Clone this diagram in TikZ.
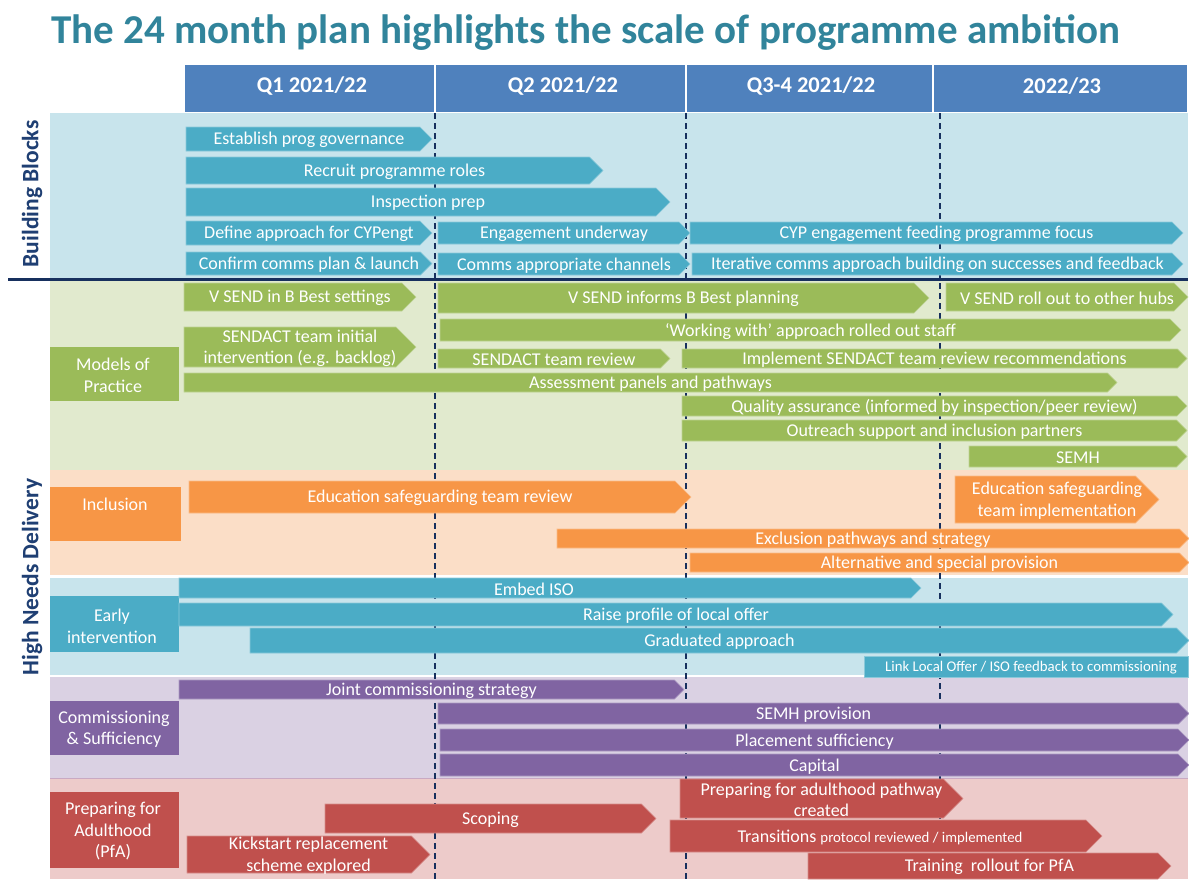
\documentclass[tikz,border=0pt]{standalone}
\usepackage{fontspec}
\setmainfont{Carlito}
\definecolor{titleteal}{HTML}{31849B}
\definecolor{hdrblue}{HTML}{4F81BD}
\definecolor{navy}{HTML}{17305E}
\definecolor{vtext}{HTML}{1F3F73}
\definecolor{tealbar}{HTML}{4BACC6}
\definecolor{tealbg}{HTML}{C8E4EC}
\definecolor{greenbar}{HTML}{9BBB59}
\definecolor{greenbg}{HTML}{E1EACE}
\definecolor{orangebar}{HTML}{F79646}
\definecolor{orangebg}{HTML}{FBDEC7}
\definecolor{purplebar}{HTML}{8064A2}
\definecolor{purplebg}{HTML}{DAD1E3}
\definecolor{redbar}{HTML}{C0504D}
\definecolor{redbg}{HTML}{EDCBCA}
\definecolor{csline}{HTML}{C9A9C2}
\newcommand\btfont{\fontsize{18}{21.5}\selectfont}
\newcommand\smfont{\fontsize{14.8}{16}\selectfont}
\tikzset{
  bartext/.style={text=white, font=\btfont, inner sep=0pt, align=center, yshift=-1.2pt},
  hdrtext/.style={text=white, font=\fontsize{22.5}{26}\selectfont\bfseries, inner sep=0pt},
  vlabel/.style={text=vtext, font=\fontsize{23.5}{26}\selectfont\bfseries, rotate=90, inner sep=0pt},
  divider/.style={navy, dashed, dash pattern=on 6pt off 4pt, line width=1.3pt},
}
% #1 text xshift, #2 name, #3 x1, #4 tip x, #5 y1, #6 y2, #7 colour, #8 text
\newcommand\chev[8][0]{%
  \filldraw[fill=#7, draw=#7!65!white, line width=0.6pt]
    (#3,#5) -- ({#4-(#6-#5)/2},#5) -- (#4,{(#5+#6)/2}) -- ({#4-(#6-#5)/2},#6) -- (#3,#6) -- cycle;
  \node[bartext] (#2) at ({(#3+#4)/2+#1},{(#5+#6)/2}) {#8};}
\begin{document}
\begin{tikzpicture}[x=1pt,y=-1pt]
\useasboundingbox (0,0) rectangle (1189,879);
\fill[white] (0,0) rectangle (1189,879);
% title
\node[text=titleteal, font=\fontsize{41}{46}\selectfont\bfseries, inner sep=0pt] (title) at (586,33) {The 24 month plan highlights the scale of programme ambition};
% header
\fill[hdrblue] (185,65) rectangle (434,112);
\fill[hdrblue] (436,65) rectangle (685,112);
\fill[hdrblue] (687,65) rectangle (932,112);
\fill[hdrblue] (934,65) rectangle (1187,112);
\node[hdrtext] (q1) at (312,86) {Q1 2021/22};
\node[hdrtext] (q2) at (563,86) {Q2 2021/22};
\node[hdrtext] (q3) at (811,86) {Q3-4 2021/22};
\node[hdrtext] (q5) at (1062,86) {2022/23};
% backgrounds
\fill[tealbg] (50,113) rectangle (1188,278);
\fill[greenbg] (50,281) rectangle (1188,470);
\fill[orangebg] (50,470) rectangle (1188,575);
\fill[tealbg] (50,578) rectangle (1188,675);
\fill[purplebg] (50,677) rectangle (1188,778);
\fill[redbg] (50,779) rectangle (1188,879);
\draw[csline, line width=1pt] (50,778.5) -- (1188,778.5);
\draw[navy, line width=3pt] (8,279.5) -- (1188,279.5);
% dashed quarter dividers
\coordinate (d1t) at (435,113); \coordinate (d1b) at (435,879);
\coordinate (d2t) at (686,113); \coordinate (d2b) at (686,879);
\coordinate (d3t) at (940,113); \coordinate (d3b) at (940,879);
\draw[divider] (d1t) -- (d1b);
\draw[divider] (d2t) -- (d2b);
\draw[divider] (d3t) -- (d3b);
% vertical section labels
\node[vlabel] (bb) at (32,194) {Building Blocks};
\node[vlabel] (hnd) at (32,577) {High Needs Delivery};
% workstream label boxes
\fill[greenbar] (50,347) rectangle (179,401);
\node[bartext] (mop) at (113,374) {Models of\\Practice};
\fill[orangebar] (50,487) rectangle (181,541);
\node[bartext] (inc) at (115,503) {Inclusion};
\fill[tealbar] (50,596) rectangle (179,652);
\node[bartext] (ei) at (112,625) {Early\\intervention};
\fill[purplebar] (50,701) rectangle (179,755);
\node[bartext] (cs) at (114,728) {Commissioning\\\& Sufficiency};
\fill[redbar] (50,792) rectangle (179,868);
\node[bartext] (pfa) at (113,830) {Preparing for\\Adulthood\\(PfA)};
% building blocks
\chev{b1}{186}{432}{127}{151}{tealbar}{Establish prog governance}
\chev{b2}{186}{603}{157}{184}{tealbar}{Recruit programme roles}
\chev{b3}{186}{670}{188}{216}{tealbar}{Inspection prep}
\chev{b4}{186}{432}{221}{245}{tealbar}{Define approach for CYPengt}
\chev{b5}{438}{690}{222}{244}{tealbar}{Engagement underway}
\chev{b6}{690}{1183}{222}{244}{tealbar}{CYP engagement feeding programme focus}
\chev{b7}{186}{432}{252}{275}{tealbar}{Confirm comms plan \& launch}
\chev{b8}{438}{690}{253}{275}{tealbar}{Comms appropriate channels}
\chev{b9}{692}{1183}{253}{275}{tealbar}{Iterative comms approach building on successes and feedback}
% models of practice
\chev{m1}{184}{416}{283}{311}{greenbar}{V SEND in B Best settings}
\chev{m2}{438}{929}{283}{313}{greenbar}{V SEND informs B Best planning}
\chev{m3}{946}{1188}{283}{311}{greenbar}{V SEND roll out to other hubs}
\chev{m4}{440}{1181}{319}{341}{greenbar}{‘Working with’ approach rolled out staff}
\chev{m5}{184}{416}{327}{367}{greenbar}{SENDACT team initial\\intervention (e.g. backlog)}
\chev{m6}{438}{670}{349}{368}{greenbar}{SENDACT team review}
\chev{m7}{682}{1187}{349}{368}{greenbar}{Implement SENDACT team review recommendations}
\chev{m8}{184}{1117}{373}{392}{greenbar}{Assessment panels and pathways}
\chev{m9}{682}{1187}{396}{416}{greenbar}{Quality assurance (informed by inspection/peer review)}
\chev{m10}{682}{1187}{420}{441}{greenbar}{Outreach support and inclusion partners}
\chev{m11}{969}{1187}{446}{467}{greenbar}{SEMH}
% inclusion
\chev{i1}{189}{691}{481}{513}{orangebar}{Education safeguarding team review}
\chev{i2}{955}{1159}{476}{523}{orangebar}{Education safeguarding\\team implementation}
\chev{i3}{557}{1189}{529}{548}{orangebar}{Exclusion pathways and strategy}
\chev{i4}{690}{1189}{553}{572}{orangebar}{Alternative and special provision}
% early intervention
\chev[-16]{e1}{179}{921}{578}{598}{tealbar}{Embed ISO}
\chev{e2}{179}{1173}{603}{626}{tealbar}{Raise profile of local offer}
\chev{e3}{250}{1189}{628}{653}{tealbar}{Graduated approach}
\filldraw[fill=tealbar, draw=tealbar!65!white, line width=0.6pt] (864,656) rectangle (1188,677);
\node[text=white, font=\smfont, inner sep=0pt, yshift=-1pt] (e4) at (1031,666.5) {Link Local Offer / ISO feedback to commissioning};
% commissioning
\chev{c1}{179}{684}{680}{699}{purplebar}{Joint commissioning strategy}
\chev{c2}{438}{1189}{703}{724}{purplebar}{SEMH provision}
\chev{c3}{440}{1189}{729}{751}{purplebar}{Placement sufficiency}
\chev{c4}{440}{1189}{754}{776}{purplebar}{Capital}
% preparing for adulthood
\chev{p1}{325}{656}{804}{833}{redbar}{Scoping}
\chev{p2}{187}{430}{836}{873}{redbar}{Kickstart replacement\\scheme explored}
\chev{p3}{680}{963}{779}{818}{redbar}{Preparing for adulthood pathway\\created}
\chev[-6]{p4}{670}{1102}{820}{852}{redbar}{Transitions {\smfont protocol reviewed / implemented}}
\chev{p5}{808}{1171}{853}{879}{redbar}{Training\ \ rollout for PfA}
\end{tikzpicture}
\end{document}
